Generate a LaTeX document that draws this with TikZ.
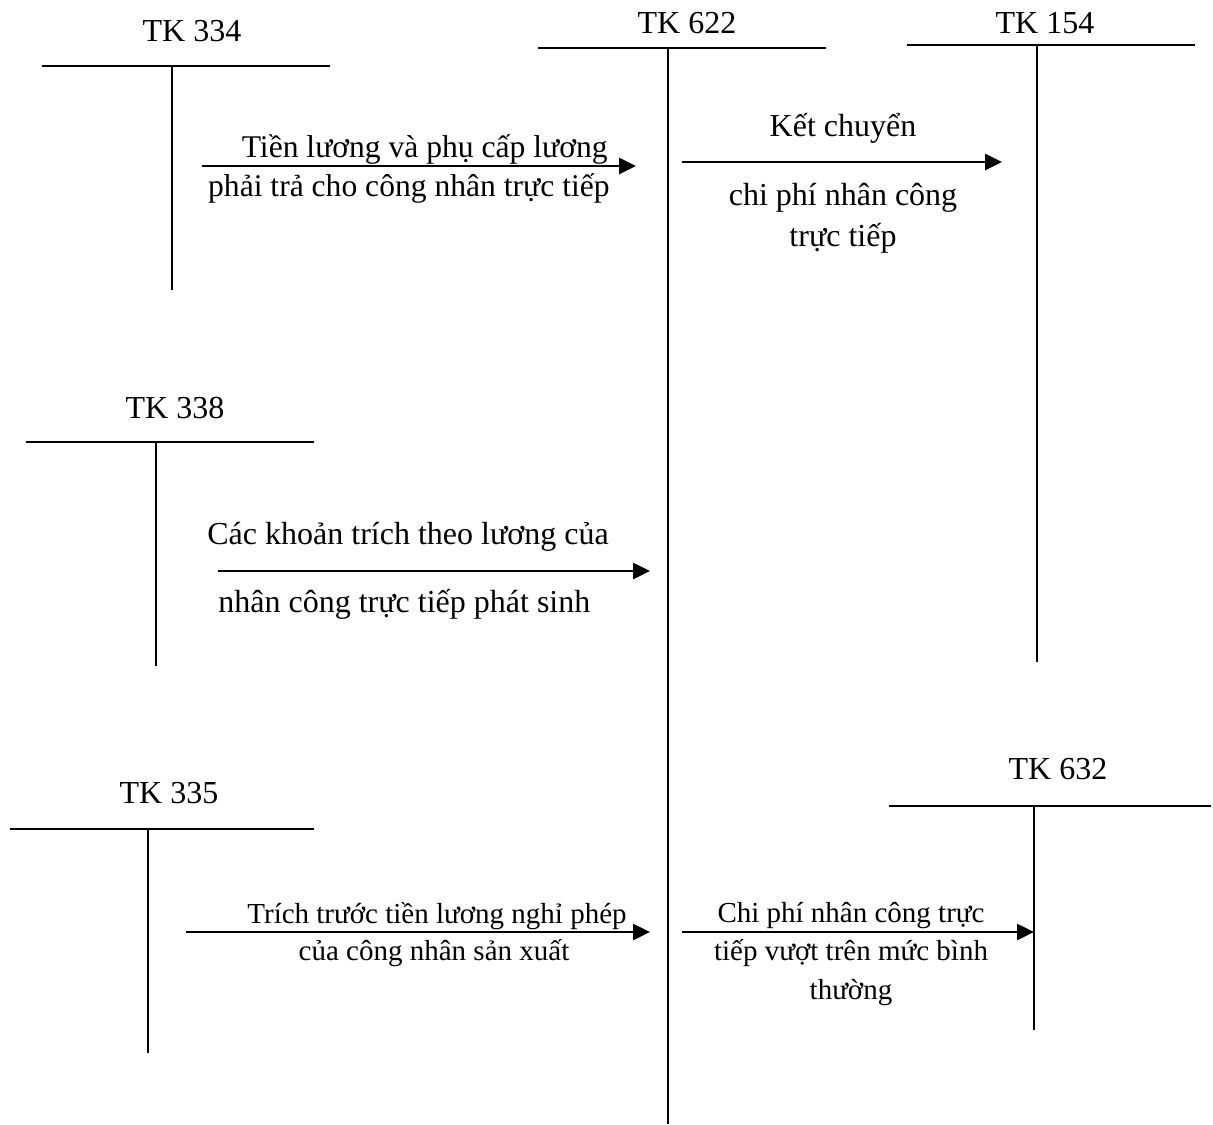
\documentclass[tikz,border=0pt]{standalone}
\usepackage{fontspec}
\setmainfont{Liberation Serif}
\usetikzlibrary{arrows.meta, calc}

\tikzset{
  tline/.style={line width=1pt},
  flow/.style={line width=1.3pt, -{Triangle[length=8.5pt,width=8pt]}},
  lbl/.style={font=\fontsize{16}{19}\selectfont, inner sep=0pt, anchor=base},
  sml/.style={font=\fontsize{14.5}{18}\selectfont, inner sep=0pt, anchor=base},
}

\begin{document}
\begin{tikzpicture}[x=0.5pt, y=-0.5pt]
\useasboundingbox (0,0) rectangle (1213,1124);

%---TK 334---
\coordinate (l334) at (42,66);
\coordinate (r334) at (330,66);
\coordinate (t334) at (172,66);
\coordinate (b334) at (172,290);
\draw[tline] (l334) -- (r334);
\draw[tline] (t334) -- (b334);
\node[lbl] (n334) at (192,41) {TK 334};

%---TK 622---
\coordinate (l622) at (538,48);
\coordinate (r622) at (826,48);
\coordinate (t622) at (668,48);
\coordinate (b622) at (668,1124);
\draw[tline] (l622) -- (r622);
\draw[tline] (t622) -- (b622);
\node[lbl] (n622) at (687,33) {TK 622};

%---TK 154---
\coordinate (l154) at (907,45);
\coordinate (r154) at (1195,45);
\coordinate (t154) at (1037,45);
\coordinate (b154) at (1037,662);
\draw[tline] (l154) -- (r154);
\draw[tline] (t154) -- (b154);
\node[lbl] (n154) at (1045,33) {TK 154};

%---TK 338---
\coordinate (l338) at (26,442);
\coordinate (r338) at (314,442);
\coordinate (t338) at (156,442);
\coordinate (b338) at (156,666);
\draw[tline] (l338) -- (r338);
\draw[tline] (t338) -- (b338);
\node[lbl] (n338) at (175,418) {TK 338};

%---TK 335---
\coordinate (l335) at (10,829);
\coordinate (r335) at (314,829);
\coordinate (t335) at (148,829);
\coordinate (b335) at (148,1053);
\draw[tline] (l335) -- (r335);
\draw[tline] (t335) -- (b335);
\node[lbl] (n335) at (169,803) {TK 335};

%---TK 632---
\coordinate (l632) at (889,806);
\coordinate (r632) at (1211,806);
\coordinate (t632) at (1034,806);
\coordinate (b632) at (1034,1030);
\draw[tline] (l632) -- (r632);
\draw[tline] (t632) -- (b632);
\node[lbl] (n632) at (1058,779) {TK 632};

%---arrows---
\coordinate (s1) at (202,166);
\coordinate (e1) at (636,166);
\draw[flow] (s1) -- (e1);
\node[lbl, anchor=base east, font=\fontsize{15.8}{19}\selectfont] (a1a) at (608,157) {Tiền lương và phụ cấp lương};
\node[lbl, anchor=base east, font=\fontsize{15.8}{19}\selectfont] (a1b) at (610,196) {phải trả cho công nhân trực tiếp};

\coordinate (s2) at (682,162);
\coordinate (e2) at (1002,162);
\draw[flow] (s2) -- (e2);
\node[lbl] (a2a) at (843,136) {Kết chuyển};
\node[lbl] (a2b) at (843,205) {chi phí nhân công};
\node[lbl] (a2c) at (843,246) {trực tiếp};

\coordinate (s3) at (218,571);
\coordinate (e3) at (650,571);
\draw[flow] (s3) -- (e3);
\node[lbl, anchor=base west] (a3a) at (207,544) {Các khoản trích theo lương của};
\node[lbl, anchor=base west] (a3b) at (218,612) {nhân công trực tiếp phát sinh};

\coordinate (s4) at (186,932);
\coordinate (e4) at (650,932);
\draw[flow] (s4) -- (e4);
\node[sml] (a4a) at (437,923) {Trích trước tiền lương nghỉ phép};
\node[sml] (a4b) at (434,960) {của công nhân sản xuất};

\coordinate (s5) at (682,932);
\draw[flow] (s5) -- (t632 |- s5);
\node[sml] (a5a) at (851,922) {Chi phí nhân công trực};
\node[sml] (a5b) at (851,960) {tiếp vượt trên mức bình};
\node[sml] (a5c) at (851,999) {thường};

\end{tikzpicture}
\end{document}
